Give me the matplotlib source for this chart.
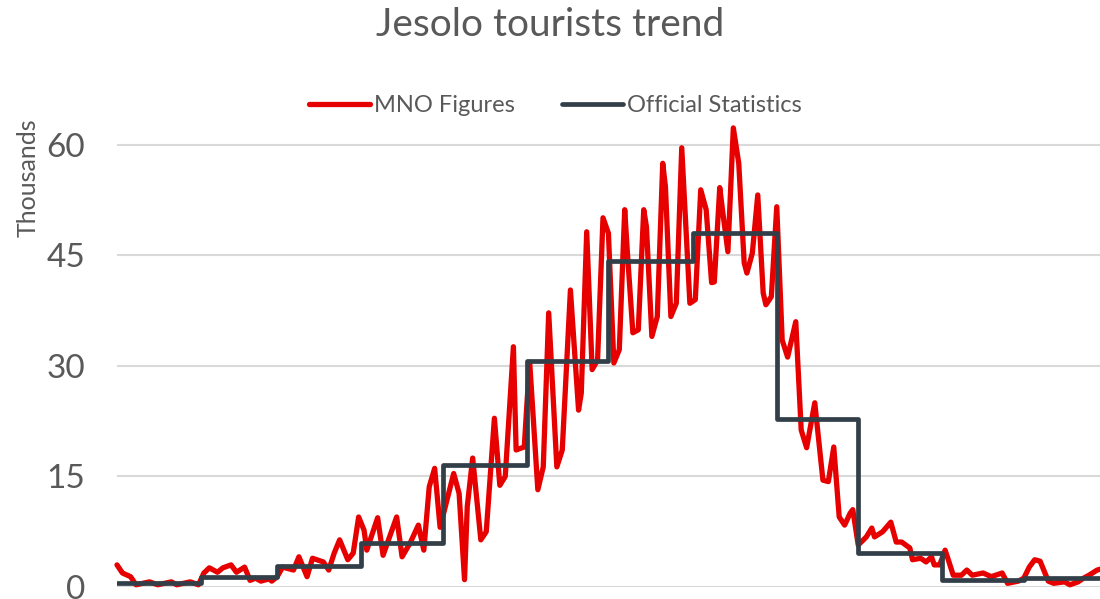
import matplotlib
matplotlib.use('Agg')
import matplotlib.pyplot as plt

# monthly official statistics (thousands)
month_start = [0, 31, 59, 90, 120, 151, 181, 212, 243, 273, 304, 334, 365]
official = [0.5, 1.35, 2.9, 5.95, 16.5, 30.7, 44.2, 48.0, 22.8, 4.6, 0.95, 1.2]

# MNO daily figures (day of year, thousands)
mno_day = [0, 2, 5, 7, 12, 15, 20, 22, 27, 30,
           32, 34, 37, 39, 42, 44, 47, 49, 51, 53, 56, 57, 59,
           61, 65, 67, 70, 72, 76, 78, 80, 82, 85, 87, 89,
           91, 92, 96, 98, 100, 103, 105, 108, 111, 113, 115, 117, 119,
           122, 124, 126, 128, 129, 131, 134, 136, 139, 141, 143, 146, 147, 150, 151, 152,
           155, 157, 159, 162, 164, 167, 170, 171, 173, 175, 177, 179, 181,
           183, 185, 187, 188, 190, 192, 194, 195, 197, 199, 201, 202, 204, 206, 208, 209, 211,
           213, 215, 217, 219, 220, 222, 223, 225, 227, 229, 231, 232, 234, 236, 238, 239, 241, 243,
           245, 247, 250, 252, 254, 257, 260, 262, 264, 266, 268, 270, 271, 273,
           276, 278, 279, 282, 285, 287, 289, 292, 293, 296, 298, 300, 301, 303,
           305, 306, 308, 311, 313, 315, 319, 322, 326, 328, 332, 334,
           336, 338, 340, 343, 345, 349, 351, 354, 356, 358, 361, 364]
mno = [3.0, 1.9, 1.4, 0.3, 0.7, 0.3, 0.7, 0.3, 0.7, 0.3,
       1.9, 2.6, 2.0, 2.6, 3.0, 2.0, 2.7, 0.9, 1.2, 0.8, 1.1, 0.8, 1.4,
       2.7, 2.3, 4.1, 1.4, 3.9, 3.4, 2.3, 4.6, 6.4, 3.7, 4.6, 9.5,
       7.7, 5.0, 9.4, 4.3, 6.4, 9.5, 4.1, 6.0, 8.4, 5.0, 13.6, 16.1, 8.1,
       12.5, 15.4, 12.7, 1.0, 10.9, 17.5, 6.4, 7.5, 22.9, 13.8, 15.0, 32.6, 18.6, 19.0, 25.0, 30.5,
       13.2, 16.3, 37.2, 16.3, 18.6, 40.3, 24.0, 26.3, 48.2, 29.5, 30.8, 50.1, 48.0,
       30.4, 32.2, 51.2, 45.3, 34.5, 34.9, 51.2, 48.9, 34.0, 36.7, 57.5, 54.3, 36.7, 38.5, 59.6, 52.5, 38.5,
       39.0, 53.9, 51.2, 41.3, 41.4, 54.2, 51.2, 45.5, 62.3, 57.5, 44.0, 42.6, 45.3, 53.2, 39.9, 38.3, 39.4, 51.6,
       33.5, 31.2, 36.0, 21.3, 18.9, 25.0, 14.5, 14.3, 19.0, 9.5, 8.4, 10.0, 10.5, 5.7,
       6.8, 8.0, 6.8, 7.5, 8.8, 6.1, 6.1, 5.3, 3.7, 3.9, 3.4, 4.1, 3.0, 3.0,
       5.0, 3.9, 1.6, 1.6, 2.3, 1.6, 1.9, 1.4, 1.9, 0.5, 0.8, 1.2,
       2.7, 3.7, 3.5, 0.8, 0.5, 0.7, 0.3, 0.7, 1.2, 1.6, 2.3, 2.6]

y_ticks = [0, 15, 30, 45, 60]

grey = '#595959'
red = '#E60000'
dark = '#333F48'
plt.rcParams['font.family'] = ['Lato', 'DejaVu Sans']

fig = plt.figure(figsize=(11, 5.99), dpi=100)
ax = fig.add_axes([117 / 1100, 1 - 587 / 599, 991 / 1100, (587 - 108) / 599])

ax.plot(mno_day, mno, color=red, linewidth=3.8, solid_joinstyle='round',
        solid_capstyle='round', label='MNO Figures', zorder=3, clip_on=False)
ax.step(month_start, official + [official[-1]], where='post', color=dark,
        linewidth=3.4, solid_joinstyle='round', solid_capstyle='round',
        label='Official Statistics', zorder=4)

ax.set_xlim(0, 365)
ax.set_ylim(0, 65)
ax.set_yticks(y_ticks)
ax.set_xticks([])
ax.grid(axis='y', color='#D9D9D9', linewidth=1.5)
ax.set_axisbelow(True)
for s in ax.spines.values():
    s.set_visible(False)
ax.tick_params(axis='y', length=0, pad=23, labelsize=24, labelcolor=grey)

fig.text(28 / 1100, 1 - 178 / 599, 'Thousands', rotation=90, ha='center',
         va='center', fontsize=18, color=grey)
fig.text(0.5, 1 - 25 / 599, 'Jesolo tourists trend', ha='center', va='center',
         fontsize=28, color=grey)

leg = fig.legend(loc='center', bbox_to_anchor=(555 / 1100, 1 - 106 / 599), ncol=2,
                 frameon=False, fontsize=17, handlelength=2.6, handletextpad=0.15,
                 columnspacing=2.0)
for t in leg.get_texts():
    t.set_color(grey)

fig.savefig('out.png', dpi=100)
